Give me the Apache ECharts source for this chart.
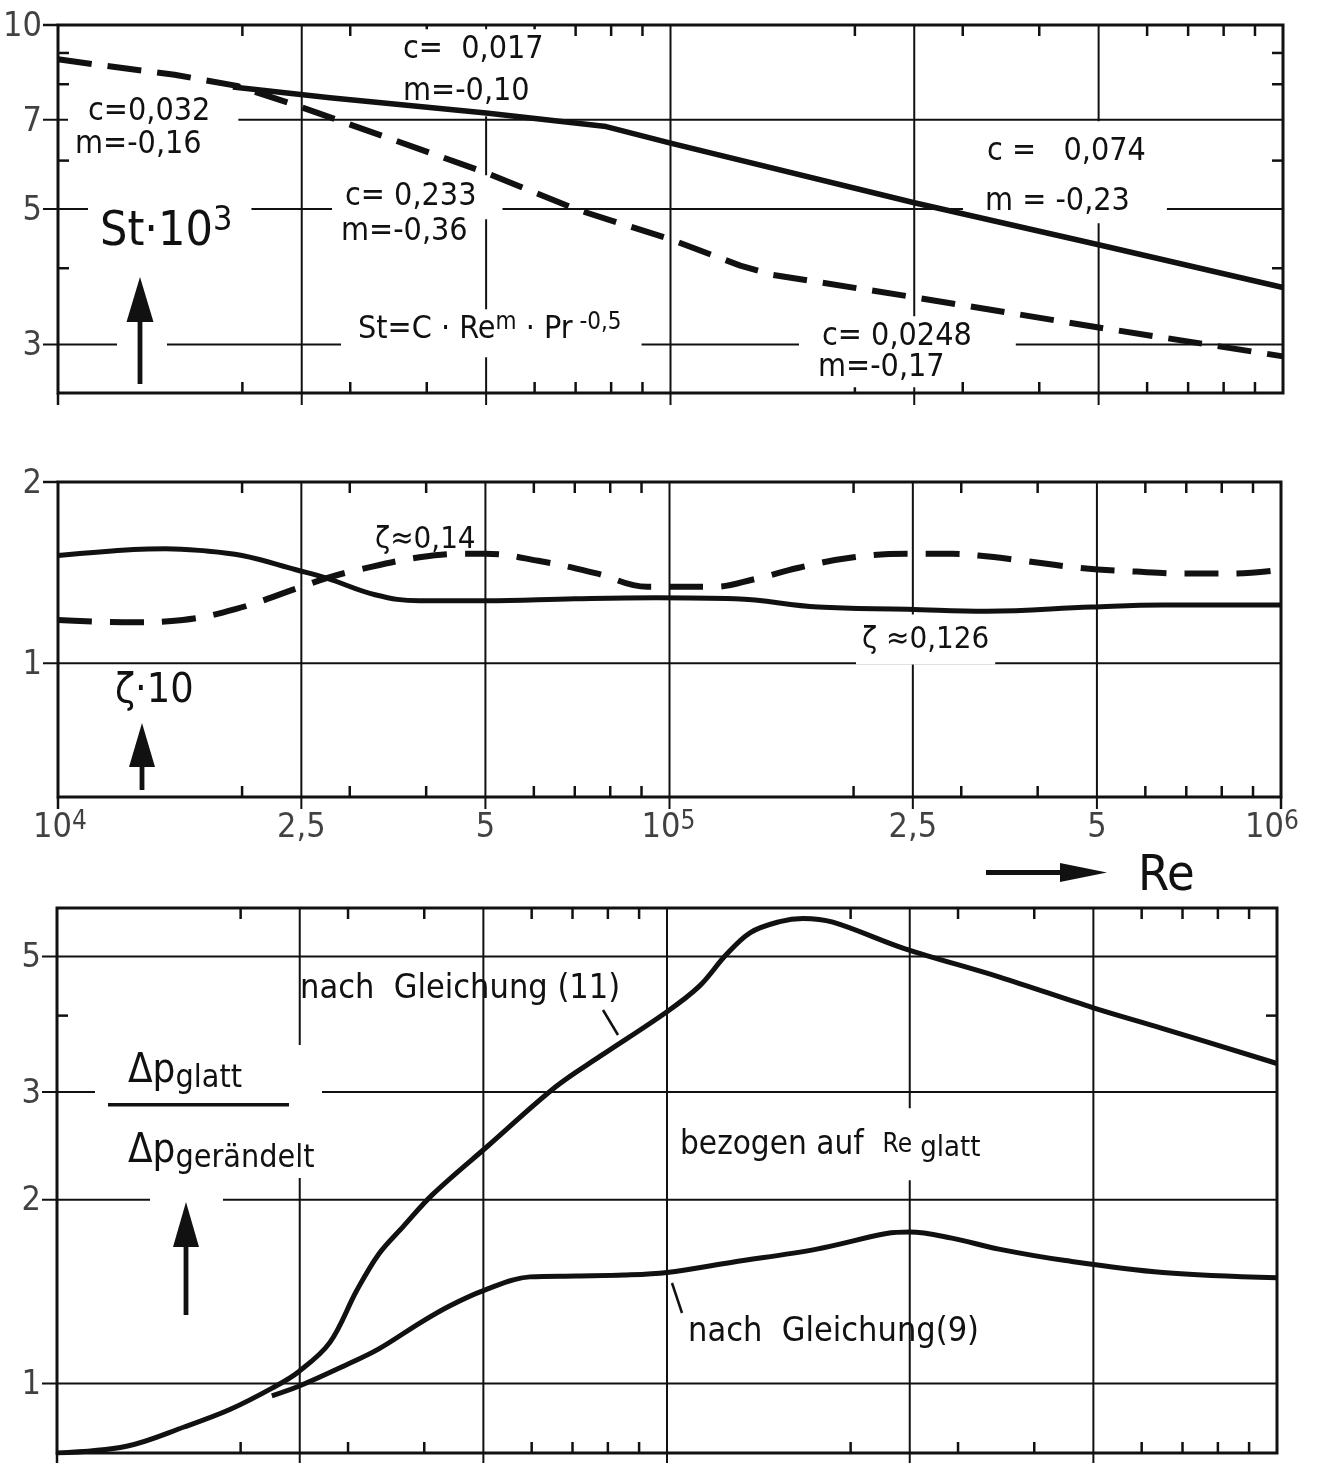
<!DOCTYPE html>
<html lang="de">
<head>
<meta charset="utf-8">
<title>St, ζ und Δp über Re</title>
<script src="https://cdn.jsdelivr.net/npm/echarts@6.0.0/dist/echarts.min.js"></script>
<style>
  html, body { margin: 0; padding: 0; background: #fff; }
  #chart { width: 1319px; height: 1463px; }
</style>
</head>
<body>
<div id="chart"></div>
<script>
// ---------- Reynolds number scale (shared by all three panels) ----------
const reMin = 1e4, reMax = 1e6;
const reGridLines = [2.5e4, 5e4, 1e5, 2.5e5, 5e5];
const reMinorTicks = [2e4, 3e4, 4e4, 6e4, 7e4, 8e4, 9e4, 2e5, 3e5, 4e5, 6e5, 7e5, 8e5, 9e5];
const reTickValues = [1e4, 2.5e4, 5e4, 1e5, 2.5e5, 5e5, 1e6];
const reTickTexts = ['10^4', '2,5', '5', '10^5', '2,5', '5', '10^6'];

// ---------- Panel 1: St·10³ ----------
const stMin = 2.5, stMax = 10;
const stTickValues = [10, 7, 5, 3];
const stMinorTicks = [9, 8, 6, 4];
// solid: c = 0,017 / m = -0,10, then c = 0,074 / m = -0,23
const stSolidRe = [1.93e4, 2.78e4, 5e4, 7.85e4, 1e5, 2.5e5, 5e5, 1e6];
const stSolid   = [7.92, 7.60, 7.18, 6.82, 6.41, 5.12, 4.37, 3.72];
// dashed: c = 0,032 / m = -0,16, c = 0,233 / m = -0,36, c = 0,0248 / m = -0,17
const stDashedRe = [1e4, 1.17e4, 1.55e4, 1.96e4, 2.42e4, 5e4, 7.03e4, 1e5, 1.3e5, 1.47e5, 2.44e5, 5e5, 1e6];
const stDashed   = [8.79, 8.60, 8.29, 7.95, 7.42, 5.73, 4.99, 4.46, 4.04, 3.90, 3.60, 3.20, 2.87];

// ---------- Panel 2: ζ·10 ----------
const zetaMin = 0.6, zetaMax = 2;
const zetaTickValues = [2, 1];
const zetaMinorTicks = [];
// solid: ζ ≈ 0,126
const zetaSolidRe = [1e4, 1.33e4, 1.5e4, 1.7e4, 2e4, 2.45e4, 2.75e4, 3.3e4, 3.9e4, 5e4, 7e4, 9.5e4, 1.28e5, 1.75e5, 2.45e5, 3.3e5, 4.9e5, 6.4e5, 1e6];
const zetaSolid   = [1.51, 1.545, 1.55, 1.54, 1.51, 1.43, 1.385, 1.30, 1.27, 1.27, 1.28, 1.285, 1.28, 1.24, 1.23, 1.22, 1.24, 1.25, 1.25];
// dashed: ζ ≈ 0,14
const zetaDashedRe = [1e4, 1.33e4, 1.6e4, 1.95e4, 2.45e4, 2.75e4, 3.1e4, 3.9e4, 4.6e4, 5e4, 6.1e4, 7.6e4, 9.2e4, 1.18e5, 1.38e5, 1.62e5, 2e5, 2.45e5, 2.9e5, 3.2e5, 3.8e5, 4.7e5, 5.8e5, 7e5, 8.4e5, 1e6];
const zetaDashed   = [1.18, 1.17, 1.18, 1.23, 1.33, 1.385, 1.43, 1.50, 1.52, 1.52, 1.48, 1.41, 1.34, 1.34, 1.38, 1.44, 1.50, 1.52, 1.52, 1.51, 1.48, 1.44, 1.42, 1.41, 1.41, 1.43];

// ---------- Panel 3: Δp_glatt / Δp_gerändelt ----------
const dpMin = 0.77, dpMax = 6;
const dpTickValues = [5, 3, 2, 1];
const dpMinorTicks = [4];
// nach Gleichung (11)
const dpEq11Re = [1e4, 1.3e4, 1.62e4, 1.92e4, 2.26e4, 2.49e4, 2.8e4, 3.1e4, 3.37e4, 3.7e4, 4.13e4, 5.09e4, 6.57e4, 7.76e4, 1e5, 1.13e5, 1.25e5, 1.37e5, 1.53e5, 1.67e5, 1.87e5, 2.45e5, 3.5e5, 5e5, 6.5e5, 1e6];
const dpEq11   = [0.77, 0.79, 0.85, 0.907, 0.985, 1.046, 1.167, 1.42, 1.63, 1.81, 2.04, 2.45, 3.06, 3.43, 4.06, 4.47, 5.03, 5.47, 5.70, 5.77, 5.69, 5.15, 4.63, 4.12, 3.81, 3.34];
// nach Gleichung (9)
const dpEq9Re = [2.25e4, 2.49e4, 2.96e4, 3.37e4, 3.95e4, 4.4e4, 5e4, 5.96e4, 7.1e4, 8.5e4, 1e5, 1.28e5, 1.76e5, 2.29e5, 2.5e5, 2.93e5, 3.5e5, 4.5e5, 6.5e5, 1e6];
const dpEq9   = [0.955, 0.99, 1.07, 1.14, 1.26, 1.34, 1.42, 1.495, 1.50, 1.505, 1.52, 1.58, 1.66, 1.76, 1.77, 1.73, 1.66, 1.59, 1.52, 1.49];

// ---------- styling / layout ----------
const INK = '#111';
const FONT = "'DejaVu Sans Condensed', 'DejaVu Sans', sans-serif";
const GRIDS = [
  { left: 58, top: 25, width: 1225, height: 368 },
  { left: 58, top: 482, width: 1223, height: 315 },
  { left: 57, top: 908, width: 1220, height: 545 }
];
const TICK_IN = 11, TICK_OUT_X = 12, TICK_OUT_Y = 15;
const reTickDx = [2, 0, 0, -1, 0, 0, -9];

const panels = [
  { yMin: stMin, yMax: stMax, yTicks: stTickValues, yMinor: stMinorTicks, xOutEnds: [reMin] },
  { yMin: zetaMin, yMax: zetaMax, yTicks: zetaTickValues, yMinor: zetaMinorTicks, xOutEnds: [reMin, reMax] },
  { yMin: dpMin, yMax: dpMax, yTicks: dpTickValues, yMinor: dpMinorTicks, xOutEnds: [reMin] }
];

const zip = (xs, ys) => xs.map((x, i) => [x, ys[i]]);

// kinds: 0 vertical grid line, 1 minor x tick (top+bottom), 2 outward x tick,
//        3 horizontal grid line, 4 minor y tick (left+right), 5 outward y tick
function decorData(p) {
  const d = [];
  reGridLines.forEach(v => d.push([v, p.yMin, 0]));
  reMinorTicks.forEach(v => d.push([v, p.yMin, 1]));
  p.xOutEnds.forEach(v => d.push([v, p.yMin, 2]));
  p.yTicks.forEach(v => d.push([reMin, v, (v === p.yMax || v === p.yMin) ? 5 : 3]));
  p.yMinor.forEach(v => d.push([reMin, v, 4]));
  return d;
}

function renderDecor(params, api) {
  const cs = params.coordSys;
  const pt = api.coord([api.value(0), api.value(1)]);
  const kind = api.value(2);
  const l = cs.x, r = cs.x + cs.width, t = cs.y, b = cs.y + cs.height;
  const seg = (x1, y1, x2, y2, w) => ({
    type: 'line', shape: { x1, y1, x2, y2 },
    style: { stroke: INK, lineWidth: w, lineCap: 'butt' }
  });
  let children;
  if (kind === 0) children = [seg(pt[0], t, pt[0], b + TICK_OUT_X, 2)];
  else if (kind === 1) children = [seg(pt[0], t, pt[0], t + TICK_IN, 2.5), seg(pt[0], b - TICK_IN, pt[0], b, 2.5)];
  else if (kind === 2) children = [seg(pt[0], b, pt[0], b + TICK_OUT_X, 2.5)];
  else if (kind === 3) children = [seg(l - TICK_OUT_Y, pt[1], r, pt[1], 2)];
  else if (kind === 4) children = [seg(l, pt[1], l + TICK_IN, pt[1], 2.5), seg(r - TICK_IN, pt[1], r, pt[1], 2.5)];
  else children = [seg(l - TICK_OUT_Y, pt[1], l, pt[1], 2.5)];
  return { type: 'group', children };
}

const grid = GRIDS.map(g => Object.assign({
  show: true, borderColor: INK, borderWidth: 3, backgroundColor: 'transparent', containLabel: false
}, g));

const xAxis = panels.map((p, i) => ({
  type: 'log', logBase: 10, gridIndex: i, min: reMin, max: reMax, show: false
}));
const yAxis = panels.map((p, i) => ({
  type: 'log', logBase: 10, gridIndex: i, min: p.yMin, max: p.yMax, show: false
}));

const series = [];

// grid lines and ticks
panels.forEach((p, i) => {
  series.push({
    type: 'custom', xAxisIndex: i, yAxisIndex: i, z: 1, silent: true,
    dimensions: ['re', 'v', 'kind'], encode: { x: 're', y: 'v' },
    renderItem: renderDecor, data: decorData(p)
  });
  // y tick labels
  series.push({
    type: 'scatter', xAxisIndex: i, yAxisIndex: i, z: 3, silent: true,
    symbolSize: 0,
    data: p.yTicks.map(v => [reMin, v]),
    label: {
      show: true, position: 'left', distance: TICK_OUT_Y + 1, offset: [0, 2],
      color: INK, fontFamily: FONT, fontSize: 34,
      formatter: q => String(q.value[1])
    }
  });
});

// Re tick labels under the ζ panel
function reLabel(t) {
  const parts = t.split('^');
  return parts.length > 1 ? '{m|' + parts[0] + '}{s|' + parts[1] + '}' : '{m|' + t + '}';
}
series.push({
  type: 'scatter', xAxisIndex: 1, yAxisIndex: 1, z: 3, silent: true, symbolSize: 0,
  data: reTickValues.map((v, i) => ({
    value: [v, zetaMin],
    label: { formatter: reLabel(reTickTexts[i]), offset: [reTickDx[i], 0] }
  })),
  label: {
    show: true, position: 'bottom', distance: 12, color: INK,
    rich: {
      m: { fontSize: 34, fontFamily: FONT, lineHeight: 38, color: INK },
      s: { fontSize: 26, fontFamily: FONT, lineHeight: 28, verticalAlign: 'top', color: INK }
    }
  }
});

// curves
const curves = [
  { panel: 0, data: zip(stSolidRe, stSolid), dash: null, smooth: false, width: 5.5 },
  { panel: 0, data: zip(stDashedRe, stDashed), dash: [34, 16], smooth: false, width: 6 },
  { panel: 1, data: zip(zetaSolidRe, zetaSolid), dash: null, smooth: 0.4, width: 5 },
  { panel: 1, data: zip(zetaDashedRe, zetaDashed), dash: [34, 18], smooth: 0.4, width: 6 },
  { panel: 2, data: zip(dpEq11Re, dpEq11), dash: null, smooth: 0.35, width: 5 },
  { panel: 2, data: zip(dpEq9Re, dpEq9), dash: null, smooth: 0.35, width: 5 }
];
curves.forEach(c => series.push({
  type: 'line', xAxisIndex: c.panel, yAxisIndex: c.panel, z: 6, silent: true,
  data: c.data, showSymbol: false, symbol: 'none', smooth: c.smooth,
  lineStyle: { color: INK, width: c.width, type: c.dash || 'solid', cap: 'butt', join: 'round' }
}));

// ---------- annotations ----------
function note(left, vc, text, size, pad, bg, extra) {
  pad = pad || [0, 0, 0, 0];
  return {
    type: 'text', z: 4, silent: true,
    x: left - pad[3],
    y: vc + size * 0.0675 - (pad[0] - pad[2]) / 2,
    style: Object.assign({
      text, fill: INK, font: size + 'px ' + FONT, lineHeight: size + 2,
      align: 'left', verticalAlign: 'middle',
      padding: pad, backgroundColor: bg ? '#fff' : 'transparent'
    }, extra || {})
  };
}
const rs = (size, lh, va) => ({ fontSize: size, fontFamily: FONT, lineHeight: lh, verticalAlign: va || 'middle', fill: INK });

function upArrow(x, tipY, baseY, endY, halfW) {
  return [
    { type: 'polygon', z: 4, silent: true, shape: { points: [[x, tipY], [x - halfW, baseY], [x + halfW, baseY]] }, style: { fill: INK } },
    { type: 'rect', z: 4, silent: true, shape: { x: x - 2.4, y: baseY - 2, width: 4.8, height: endY - baseY + 2 }, style: { fill: INK } }
  ];
}
const whiteGap = (x, y, w, h) => ({ type: 'rect', z: 3, silent: true, shape: { x, y, width: w, height: h }, style: { fill: '#fff' } });
const stroke = (x1, y1, x2, y2, w) => ({ type: 'line', z: 4, silent: true, shape: { x1, y1, x2, y2 }, style: { stroke: INK, lineWidth: w || 2.5 } });

const graphics = [
  // St·10³ panel
  note(403, 47, 'c=  0,017', 32, [3, 10, 4, 6], true),
  note(403, 86, 'm=-0,10', 32, [4, 10, 11, 6], true),
  note(88, 108, 'c=0,032', 32, [2, 28, 6, 20], true),
  note(75, 143, 'm=-0,16', 32, [2, 4, 2, 4], true),
  note(100, 229, '{a|St·10}{s|3}', 48, [0, 19, 0, 12], true, {
    rich: { a: rs(48, 56), s: rs(34, 36, 'top') }
  }),
  note(345, 198, 'c= 0,233', 32, [8, 26, 2, 13], true),
  note(341, 230, 'm=-0,36', 32, [2, 6, 2, 4], true),
  note(358, 328, '{a|St=C · Re}{s|m}{a| · Pr}{s| -0,5}', 32, [2, 20, 8, 17], true, {
    rich: { a: rs(32, 38), s: rs(24, 24, 'top') }
  }),
  note(987, 150, 'c =   0,074', 32, [14, 30, 14, 24], true),
  note(985, 198, 'm = -0,23', 32, [2, 37, 6, 22], true),
  note(822, 335, 'c= 0,0248', 32, [4, 44, 4, 23], true),
  note(818, 366, 'm=-0,17', 32, [2, 6, 2, 4], true),
  whiteGap(117, 340, 50, 10),
  ...upArrow(140, 277, 322, 384, 13.5),

  // ζ·10 panel
  note(375, 538, 'ζ≈0,14', 31),
  note(862, 640, 'ζ ≈0,126', 31, [11, 6, 6, 6], true),
  note(115, 691, 'ζ·10', 41, [6, 20, 2, 25], true),
  ...upArrow(142, 723, 767, 790, 13),

  // Re axis title
  note(1138, 874, 'Re', 50),
  { type: 'rect', z: 4, silent: true, shape: { x: 986, y: 870, width: 80, height: 5 }, style: { fill: INK } },
  { type: 'polygon', z: 4, silent: true, shape: { points: [[1060, 863], [1107, 872.5], [1060, 882]] }, style: { fill: INK } },

  // Δp panel
  whiteGap(95, 1045, 227, 62),
  whiteGap(120, 1107, 232, 71),
  note(128, 1069, '{d|Δp}{s|glatt}', 40, [0, 0, 0, 0], false, {
    rich: { d: rs(40, 46), s: rs(32, 26, 'bottom') }
  }),
  { type: 'rect', z: 4, silent: true, shape: { x: 108, y: 1103, width: 181, height: 3.5 }, style: { fill: INK } },
  note(128, 1149, '{d|Δp}{s|gerändelt}', 40, [0, 0, 0, 0], false, {
    rich: { d: rs(40, 46), s: rs(32, 26, 'bottom') }
  }),
  whiteGap(150, 1197, 73, 10),
  ...upArrow(186, 1202, 1247, 1315, 13),
  note(300, 987, 'nach  Gleichung (11)', 34),
  stroke(603, 1010, 618, 1035),
  note(680, 1143, '{a|bezogen auf  }{r|Re}{g| glatt}', 33, [19, 8, 17, 6], true, {
    rich: { a: rs(33, 36), r: rs(26, 32, 'middle'), g: rs(29, 30, 'bottom') }
  }),
  note(688, 1330, 'nach  Gleichung(9)', 34),
  stroke(672, 1283, 682, 1313)
];

const chart = echarts.init(document.getElementById('chart'), null, { renderer: 'canvas' });
chart.setOption({
  backgroundColor: '#fff',
  animation: false,
  textStyle: { fontFamily: FONT, color: INK },
  grid, xAxis, yAxis, series,
  graphic: { elements: graphics }
});
</script>
</body>
</html>
